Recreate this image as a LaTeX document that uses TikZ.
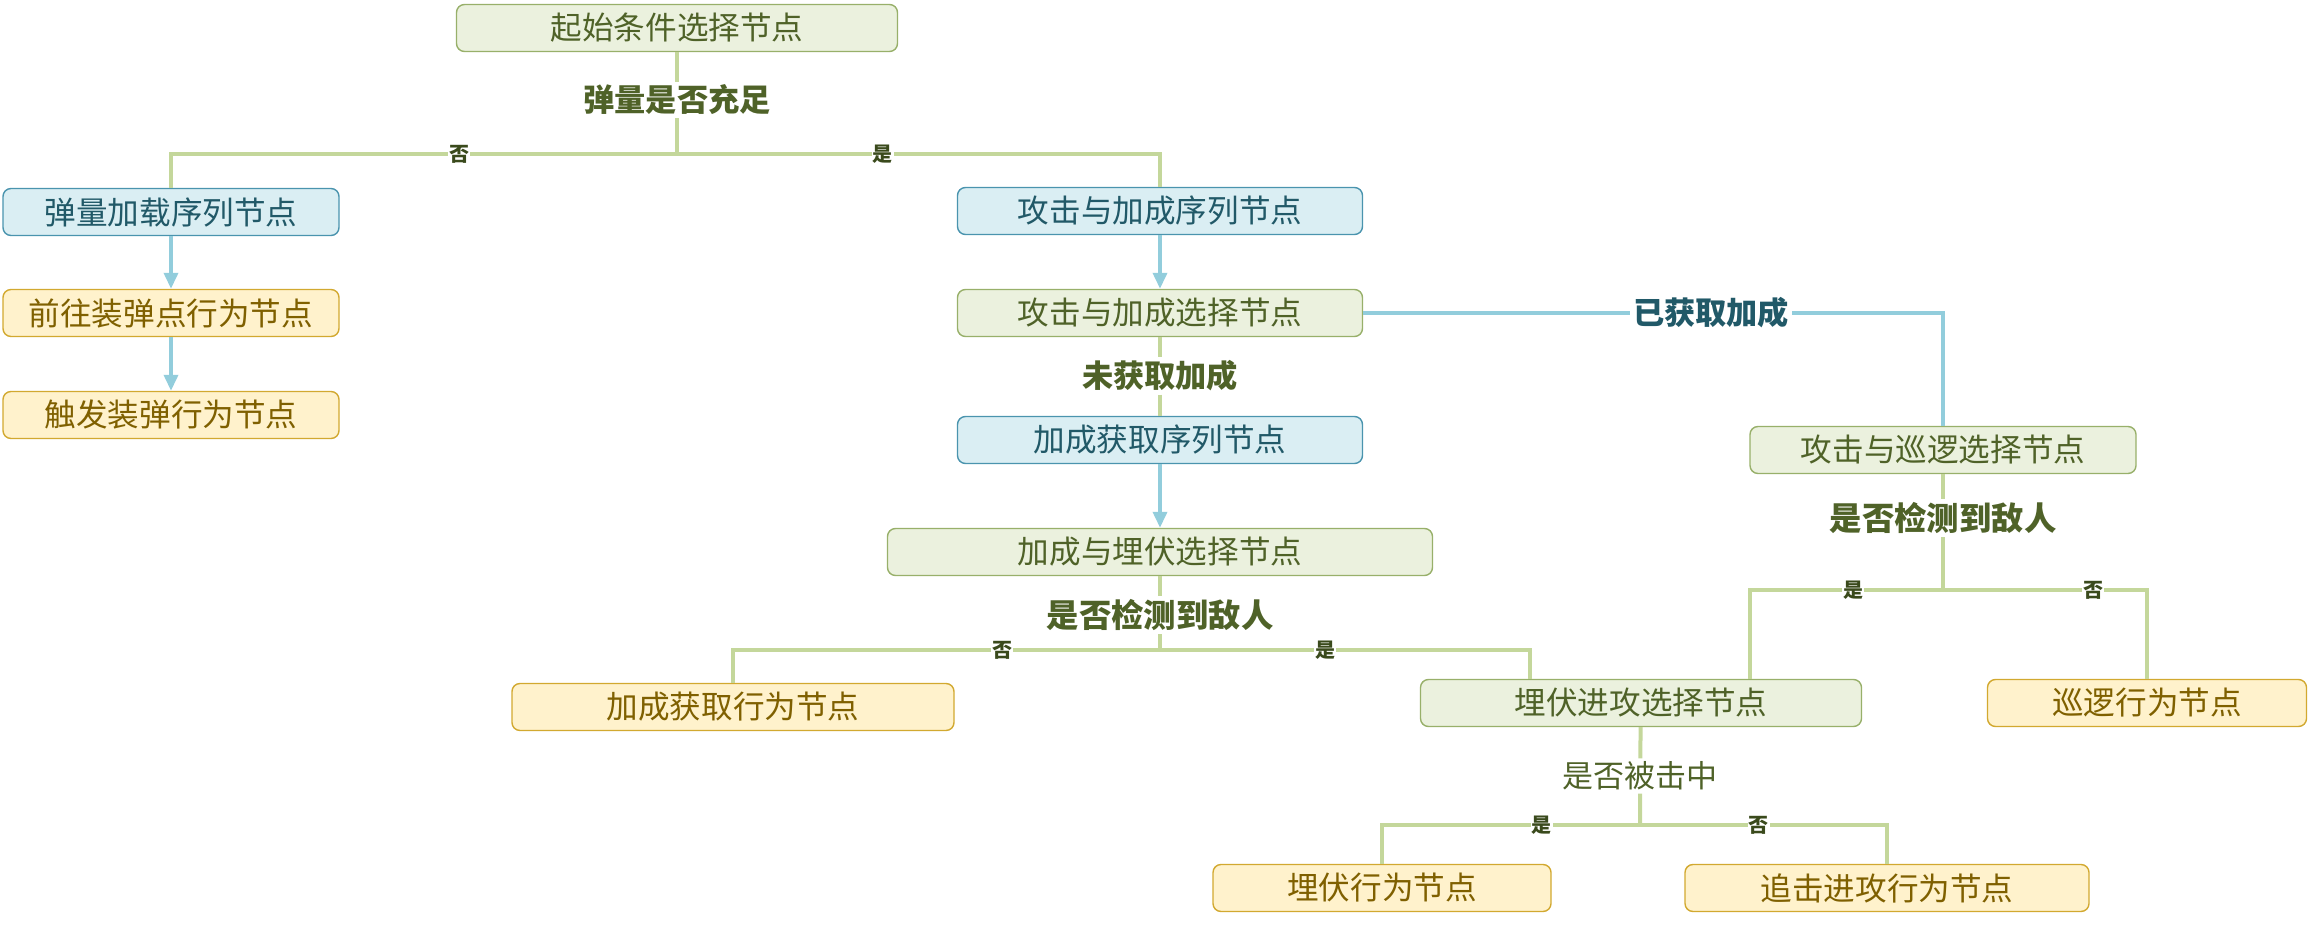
\documentclass[tikz,border=0pt]{standalone}
\usepackage{fontspec}
\newfontfamily\cjk{Noto Sans CJK SC}
\usetikzlibrary{arrows.meta}
\definecolor{grnfill}{HTML}{EBF1DE}
\definecolor{grnline}{HTML}{98B06A}
\definecolor{grntext}{HTML}{4F6228}
\definecolor{blufill}{HTML}{DAEEF3}
\definecolor{bluline}{HTML}{4A94AE}
\definecolor{blutext}{HTML}{215968}
\definecolor{ylwfill}{HTML}{FFF2CC}
\definecolor{ylwline}{HTML}{D2A930}
\definecolor{ylwtext}{HTML}{7F6000}
\definecolor{grnconn}{HTML}{C4D79B}
\definecolor{bluconn}{HTML}{92CDDC}
\definecolor{yntext}{HTML}{3A4A1C}
\begin{document}
\begin{tikzpicture}[x=0.5pt,y=-0.5pt,
	box/.style={draw,rounded corners=4pt,line width=0.7pt,minimum height=23.5pt,inner sep=0pt,font=\cjk\fontsize{15.8}{18}\selectfont},
	selbox/.style={box,fill=grnfill,draw=grnline,text=grntext},
	seqbox/.style={box,fill=blufill,draw=bluline,text=blutext},
	actbox/.style={box,fill=ylwfill,draw=ylwline,text=ylwtext},
	cond/.style={fill=white,inner sep=1.5pt,text=grntext,font=\cjk\bfseries\fontsize{15.6}{18}\selectfont},
	yn/.style={fill=white,inner sep=0.5pt,text=yntext,font=\cjk\bfseries\fontsize{10}{11}\selectfont},
	gl/.style={draw=grnconn,line width=2pt},
	bl/.style={draw=bluconn,line width=1.8pt},
	ba/.style={bl,-{Triangle[length=8pt,width=7pt]}}]
	\useasboundingbox (0,0) rectangle (2309,930);
	% boxes
	\node[selbox,minimum width=220.5pt] (start) at (677,28) {起始条件选择节点};
	\node[seqbox,minimum width=168pt] (ammoSeq) at (171,212) {弹量加载序列节点};
	\node[actbox,minimum width=168pt] (gotoAmmo) at (171,313) {前往装弹点行为节点};
	\node[actbox,minimum width=168pt] (reload) at (171,415) {触发装弹行为节点};
	\node[seqbox,minimum width=202.5pt] (atkBuffSeq) at (1160,211) {攻击与加成序列节点};
	\node[selbox,minimum width=202.5pt] (atkBuffSel) at (1160,313) {攻击与加成选择节点};
	\node[seqbox,minimum width=202.5pt] (buffSeq) at (1160,440) {加成获取序列节点};
	\node[selbox,minimum width=272.5pt] (buffAmbSel) at (1160,552) {加成与埋伏选择节点};
	\node[actbox,minimum width=221pt] (buffAct) at (733,707) {加成获取行为节点};
	\node[selbox,minimum width=220.5pt] (ambAtkSel) at (1641,703) {埋伏进攻选择节点};
	\node[selbox,minimum width=193pt] (atkPatSel) at (1943,450) {攻击与巡逻选择节点};
	\node[actbox,minimum width=159.5pt] (patrol) at (2147,703) {巡逻行为节点};
	\node[actbox,minimum width=169pt] (ambush) at (1382,888) {埋伏行为节点};
	\node[actbox,minimum width=202pt] (chase) at (1887,888) {追击进攻行为节点};
	% conditions
	\node[cond] (qAmmo) at (677,100) {弹量是否充足};
	\node[cond] (qNoBuff) at (1160,376) {未获取加成};
	\node[cond,font=\cjk\bfseries\fontsize{16.2}{19}\selectfont] (qEnemyA) at (1160,615) {是否检测到敌人};
	\node[cond,font=\cjk\bfseries\fontsize{16.2}{19}\selectfont] (qEnemyB) at (1943,518) {是否检测到敌人};
	\node[cond,font=\cjk\fontsize{15.5}{18}\selectfont] (qHit) at (1640,776) {是否被击中};
	\coordinate (sAmmo) at (677,154);
	\coordinate (sEnemyA) at (1160,650);
	\coordinate (sEnemyB) at (1943,590);
	\coordinate (sHit) at (1640,825);
	\coordinate (ambInL) at (1530,679);
	\coordinate (ambInR) at (1750,679);
	% connectors
	\draw[gl] (start) -- (qAmmo) -- (sAmmo);
	\draw[gl] (sAmmo) -| node[yn,pos=.215]{否} (ammoSeq);
	\draw[gl] (sAmmo) -| node[yn,pos=.213]{是} (atkBuffSeq);
	\draw[ba] (ammoSeq) -- (gotoAmmo);
	\draw[ba] (gotoAmmo) -- (reload);
	\draw[ba] (atkBuffSeq) -- (atkBuffSel);
	\draw[gl] (atkBuffSel) -- (qNoBuff) -- (buffSeq);
	\draw[ba] (buffSeq) -- (buffAmbSel);
	\draw[bl] (atkBuffSel) -| node[pos=.3,fill=white,inner sep=1.5pt,text=blutext,font=\cjk\bfseries\fontsize{15.6}{18}\selectfont]{已获取加成} (atkPatSel);
	\draw[gl] (buffAmbSel) -- (qEnemyA) -- (sEnemyA);
	\draw[gl] (sEnemyA) -| node[yn,pos=.185]{否} (buffAct);
	\draw[gl] (sEnemyA) -| node[yn,pos=.223]{是} (ambInL);
	\draw[gl] (atkPatSel) -- (qEnemyB) -- (sEnemyB);
	\draw[gl] (sEnemyB) -| node[yn,pos=.233]{是} (ambInR);
	\draw[gl] (sEnemyB) -| node[yn,pos=.368]{否} (patrol);
	\draw[gl] (ambAtkSel) -- (qHit) -- (sHit);
	\draw[gl] (sHit) -| node[yn,pos=.19]{是} (ambush);
	\draw[gl] (sHit) -| node[yn,pos=.24]{否} (chase);
\end{tikzpicture}
\end{document}
